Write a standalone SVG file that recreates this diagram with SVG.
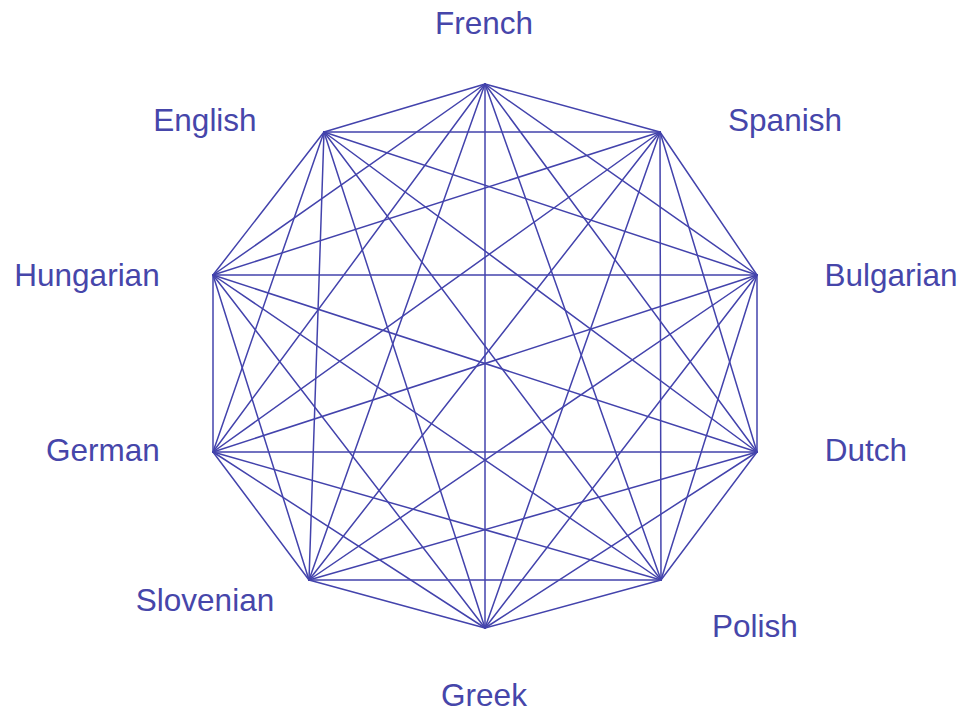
<svg xmlns="http://www.w3.org/2000/svg" width="965" height="712" viewBox="0 0 965 712">
<style>
.e{stroke:#4343ac;stroke-width:1.5;fill:none;stroke-linecap:round}
.l{font-family:"Liberation Sans",Arial,sans-serif;font-size:31.5px;fill:#4646aa;text-anchor:middle}
</style>
<rect width="965" height="712" fill="#ffffff"/>
<g id="connectors">
<line class="e" x1="485" y1="84" x2="660" y2="132"/>
<line class="e" x1="485" y1="84" x2="757" y2="275"/>
<line class="e" x1="485" y1="84" x2="757" y2="452"/>
<line class="e" x1="485" y1="84" x2="661" y2="580"/>
<line class="e" x1="485" y1="84" x2="485" y2="628"/>
<line class="e" x1="485" y1="84" x2="309" y2="580"/>
<line class="e" x1="485" y1="84" x2="213" y2="452"/>
<line class="e" x1="485" y1="84" x2="213" y2="275"/>
<line class="e" x1="485" y1="84" x2="324" y2="132"/>
<line class="e" x1="660" y1="132" x2="757" y2="275"/>
<line class="e" x1="660" y1="132" x2="757" y2="452"/>
<line class="e" x1="660" y1="132" x2="661" y2="580"/>
<line class="e" x1="660" y1="132" x2="485" y2="628"/>
<line class="e" x1="660" y1="132" x2="309" y2="580"/>
<line class="e" x1="660" y1="132" x2="213" y2="452"/>
<line class="e" x1="660" y1="132" x2="213" y2="275"/>
<line class="e" x1="660" y1="132" x2="324" y2="132"/>
<line class="e" x1="757" y1="275" x2="757" y2="452"/>
<line class="e" x1="757" y1="275" x2="661" y2="580"/>
<line class="e" x1="757" y1="275" x2="485" y2="628"/>
<line class="e" x1="757" y1="275" x2="309" y2="580"/>
<line class="e" x1="757" y1="275" x2="213" y2="452"/>
<line class="e" x1="757" y1="275" x2="213" y2="275"/>
<line class="e" x1="757" y1="275" x2="324" y2="132"/>
<line class="e" x1="757" y1="452" x2="661" y2="580"/>
<line class="e" x1="757" y1="452" x2="485" y2="628"/>
<line class="e" x1="757" y1="452" x2="309" y2="580"/>
<line class="e" x1="757" y1="452" x2="213" y2="452"/>
<line class="e" x1="757" y1="452" x2="213" y2="275"/>
<line class="e" x1="757" y1="452" x2="324" y2="132"/>
<line class="e" x1="661" y1="580" x2="485" y2="628"/>
<line class="e" x1="661" y1="580" x2="309" y2="580"/>
<line class="e" x1="661" y1="580" x2="213" y2="452"/>
<line class="e" x1="661" y1="580" x2="213" y2="275"/>
<line class="e" x1="661" y1="580" x2="324" y2="132"/>
<line class="e" x1="485" y1="628" x2="309" y2="580"/>
<line class="e" x1="485" y1="628" x2="213" y2="452"/>
<line class="e" x1="485" y1="628" x2="213" y2="275"/>
<line class="e" x1="485" y1="628" x2="324" y2="132"/>
<line class="e" x1="309" y1="580" x2="213" y2="452"/>
<line class="e" x1="309" y1="580" x2="213" y2="275"/>
<line class="e" x1="309" y1="580" x2="324" y2="132"/>
<line class="e" x1="213" y1="452" x2="213" y2="275"/>
<line class="e" x1="213" y1="452" x2="324" y2="132"/>
<line class="e" x1="213" y1="275" x2="324" y2="132"/>
</g>
<g id="french"><text class="l" x="484" y="34">French</text></g>
<g id="spanish"><text class="l" x="785" y="131">Spanish</text></g>
<g id="bulgarian"><text class="l" x="891" y="286">Bulgarian</text></g>
<g id="dutch"><text class="l" x="866" y="461">Dutch</text></g>
<g id="polish"><text class="l" x="755" y="637">Polish</text></g>
<g id="greek"><text class="l" x="484" y="706">Greek</text></g>
<g id="slovenian"><text class="l" x="205" y="611">Slovenian</text></g>
<g id="german"><text class="l" x="103" y="461">German</text></g>
<g id="hungarian"><text class="l" x="87" y="286">Hungarian</text></g>
<g id="english"><text class="l" x="205" y="131">English</text></g>
</svg>
